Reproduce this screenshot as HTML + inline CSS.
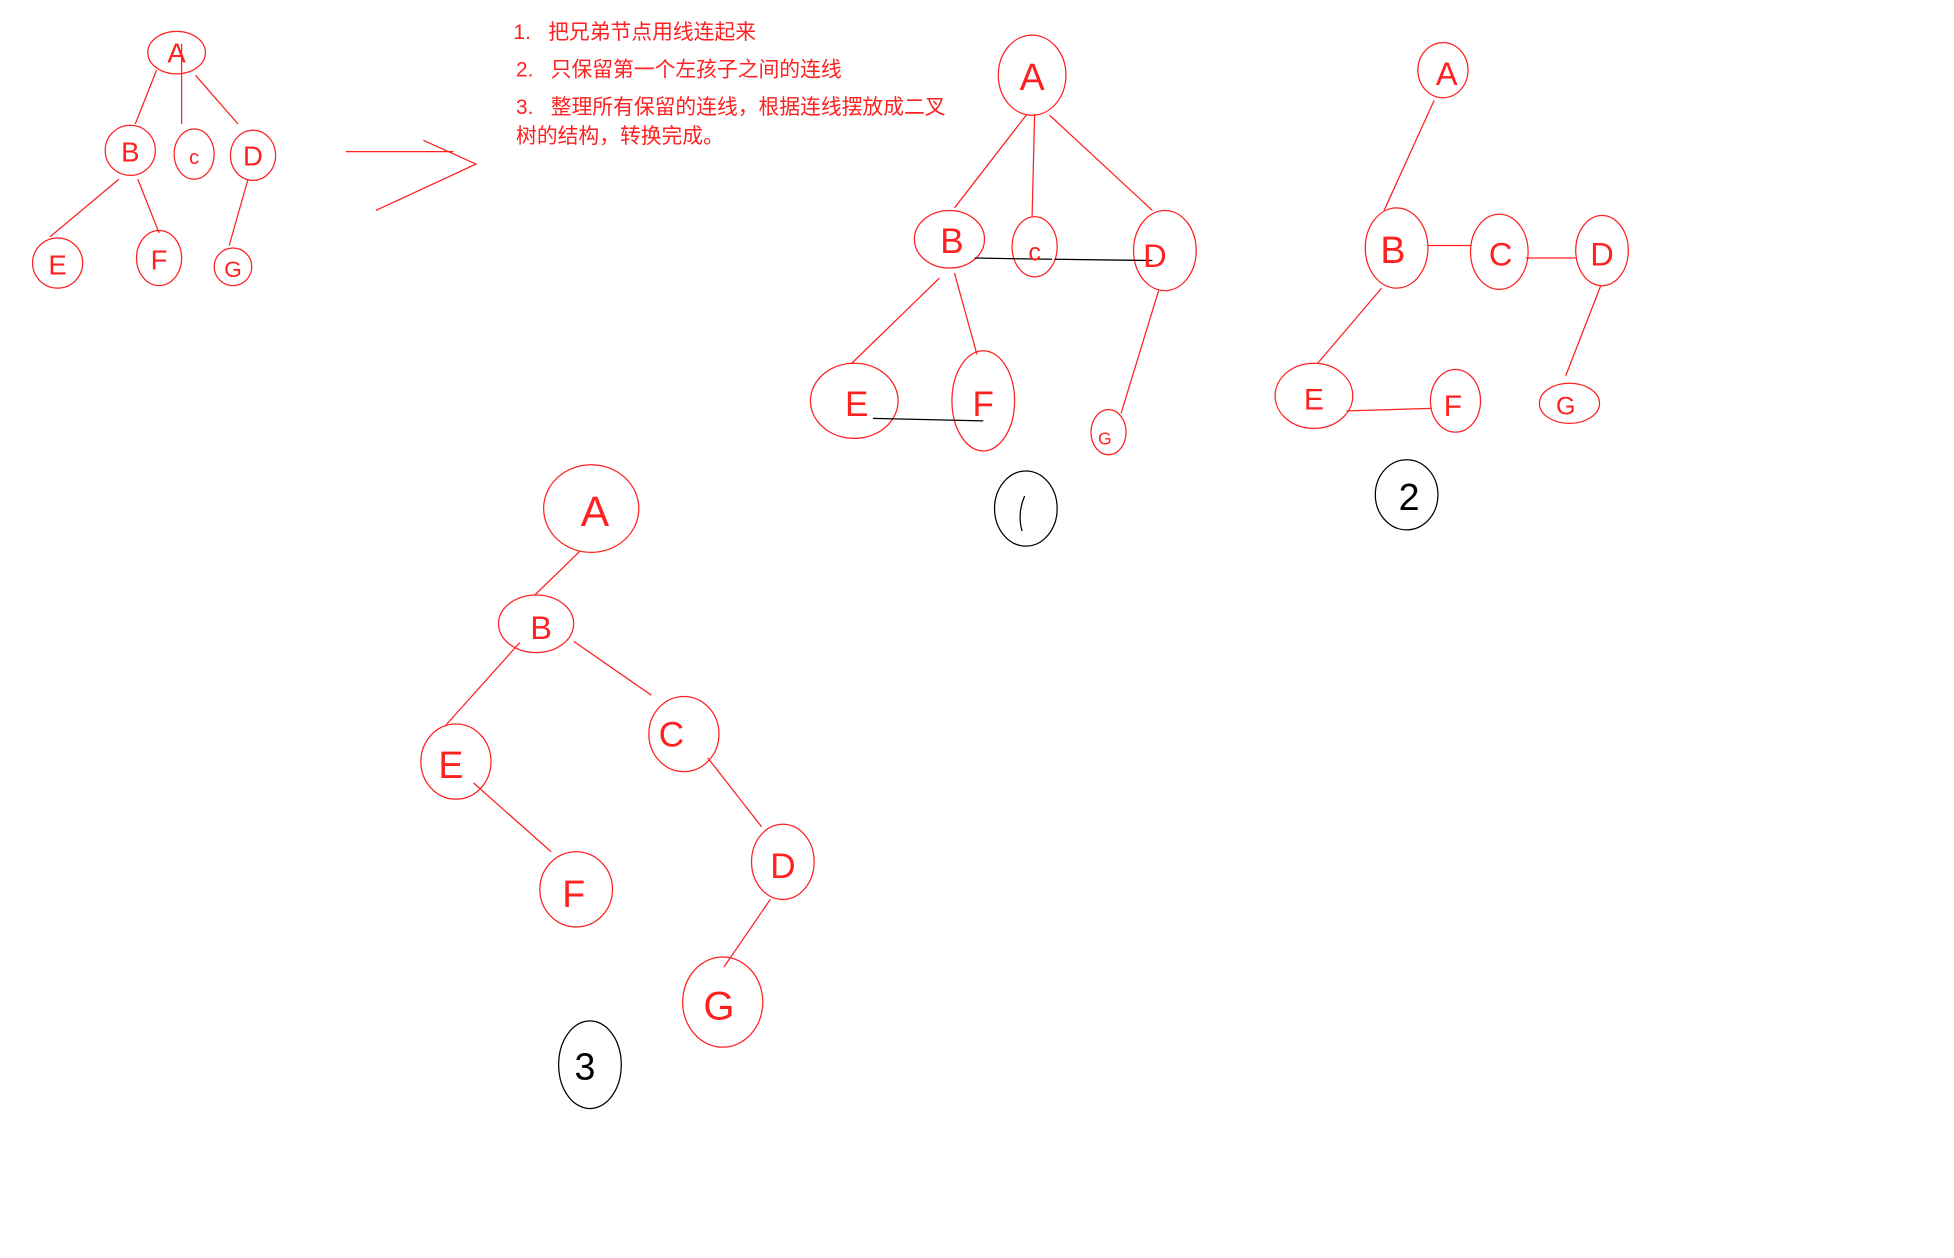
<!DOCTYPE html>
<html><head><meta charset="utf-8"><style>
html,body{margin:0;padding:0;background:#fff;}
svg{display:block;}
text{font-family:"Liberation Sans","Noto Sans CJK SC",sans-serif;}
</style></head><body>
<svg width="1954" height="1258" viewBox="0 0 1560 1004.3" preserveAspectRatio="none" xmlns="http://www.w3.org/2000/svg">
<g fill="none" stroke="#ff2020" stroke-width="1">
<ellipse cx="141" cy="42" rx="23" ry="17"/>
<ellipse cx="104" cy="120" rx="20" ry="20"/>
<ellipse cx="155" cy="123" rx="16" ry="20"/>
<ellipse cx="202" cy="124" rx="18" ry="20"/>
<ellipse cx="46" cy="210" rx="20" ry="20"/>
<ellipse cx="127" cy="206" rx="18" ry="22"/>
<ellipse cx="186" cy="213" rx="15" ry="15"/>
<path d="M125 56L108 99M145 35L145 99M156 60L190 99M95 143L40 189M110 143L127 186M198 143L183 196"/>
<path d="M276 121L362 121M338 112L380 131L300 168"/>
<ellipse cx="824" cy="60" rx="27" ry="32"/>
<ellipse cx="758" cy="191" rx="28" ry="23"/>
<ellipse cx="826" cy="197" rx="18" ry="24"/>
<ellipse cx="930" cy="200" rx="25" ry="32"/>
<ellipse cx="682" cy="320" rx="35" ry="30"/>
<ellipse cx="785" cy="320" rx="25" ry="40"/>
<ellipse cx="885" cy="345" rx="14" ry="18"/>
<path d="M820 91L762 166M826 91L824 173M838 92L920 168M750 222L680 290M762 218L780 283M925 232L895 330"/>
<ellipse cx="1152" cy="56" rx="20" ry="22"/>
<ellipse cx="1115" cy="198" rx="25" ry="32"/>
<ellipse cx="1197" cy="201" rx="23" ry="30"/>
<ellipse cx="1279" cy="200" rx="21" ry="28"/>
<ellipse cx="1049" cy="316" rx="31" ry="26"/>
<ellipse cx="1162" cy="320" rx="20" ry="25"/>
<ellipse cx="1253" cy="322" rx="24" ry="16"/>
<path d="M1145 80L1105 168M1140 196L1175 196M1218 206L1258 206M1103 230L1052 290M1075 328L1143 326M1278 228L1250 300"/>
<ellipse cx="472" cy="406" rx="38" ry="35"/>
<ellipse cx="428" cy="498" rx="30" ry="23"/>
<ellipse cx="546" cy="586" rx="28" ry="30"/>
<ellipse cx="625" cy="688" rx="25" ry="30"/>
<ellipse cx="364" cy="608" rx="28" ry="30"/>
<ellipse cx="460" cy="710" rx="29" ry="30"/>
<ellipse cx="577" cy="800" rx="32" ry="36"/>
<path d="M463 440L427 475M458 512L520 555M415 513L355 580M378 625L440 680M565 605L608 660M615 718L578 772"/>
</g>
<g fill="none" stroke="#000" stroke-width="1">
<path d="M778 206L840 207M842 207L920 208M697 334L785 336"/>
<ellipse cx="819" cy="406" rx="25" ry="30"/>
<path d="M818 396Q812 410 816 424"/>
<ellipse cx="1123" cy="395" rx="25" ry="28"/>
<ellipse cx="471" cy="850" rx="25" ry="35"/>
</g>
<g fill="#ff2020" text-anchor="middle" font-size="22">
<text x="141" y="50">A</text><text x="104" y="129">B</text><text x="155" y="131" font-size="16">c</text><text x="202" y="132">D</text>
<text x="46" y="219">E</text><text x="127" y="215">F</text><text x="186" y="221" font-size="18">G</text>
<text x="824" y="72" font-size="30">A</text><text x="760" y="202" font-size="28">B</text><text x="826" y="208" font-size="20">c</text><text x="922" y="213" font-size="26">D</text>
<text x="684" y="332" font-size="28">E</text><text x="785" y="332" font-size="28">F</text><text x="882" y="355" font-size="14">G</text>
<text x="1155" y="68" font-size="26">A</text><text x="1112" y="210" font-size="30">B</text><text x="1198" y="212" font-size="26">C</text><text x="1279" y="212" font-size="26">D</text>
<text x="1049" y="327" font-size="24">E</text><text x="1160" y="332" font-size="24">F</text><text x="1250" y="331" font-size="20">G</text>
<text x="475" y="420" font-size="34">A</text><text x="432" y="510" font-size="26">B</text><text x="536" y="596" font-size="28">C</text><text x="625" y="701" font-size="28">D</text>
<text x="360" y="621" font-size="30">E</text><text x="458" y="724" font-size="30">F</text><text x="574" y="814" font-size="32">G</text>
</g>
<g fill="#000" text-anchor="middle">
<text x="1125" y="407" font-size="30">2</text>
<text x="467" y="862" font-size="30">3</text>
</g>
<g fill="#ff2020" font-size="16.6">
<text x="410" y="31">1.&#160;&#160;&#160;把兄弟节点用线连起来</text>
<text x="412" y="61">2.&#160;&#160;&#160;只保留第一个左孩子之间的连线</text>
<text x="412" y="91">3.&#160;&#160;&#160;整理所有保留的连线，根据连线摆放成二叉</text>
<text x="412" y="114">树的结构，转换完成。</text>
</g>
</svg>
</body></html>
